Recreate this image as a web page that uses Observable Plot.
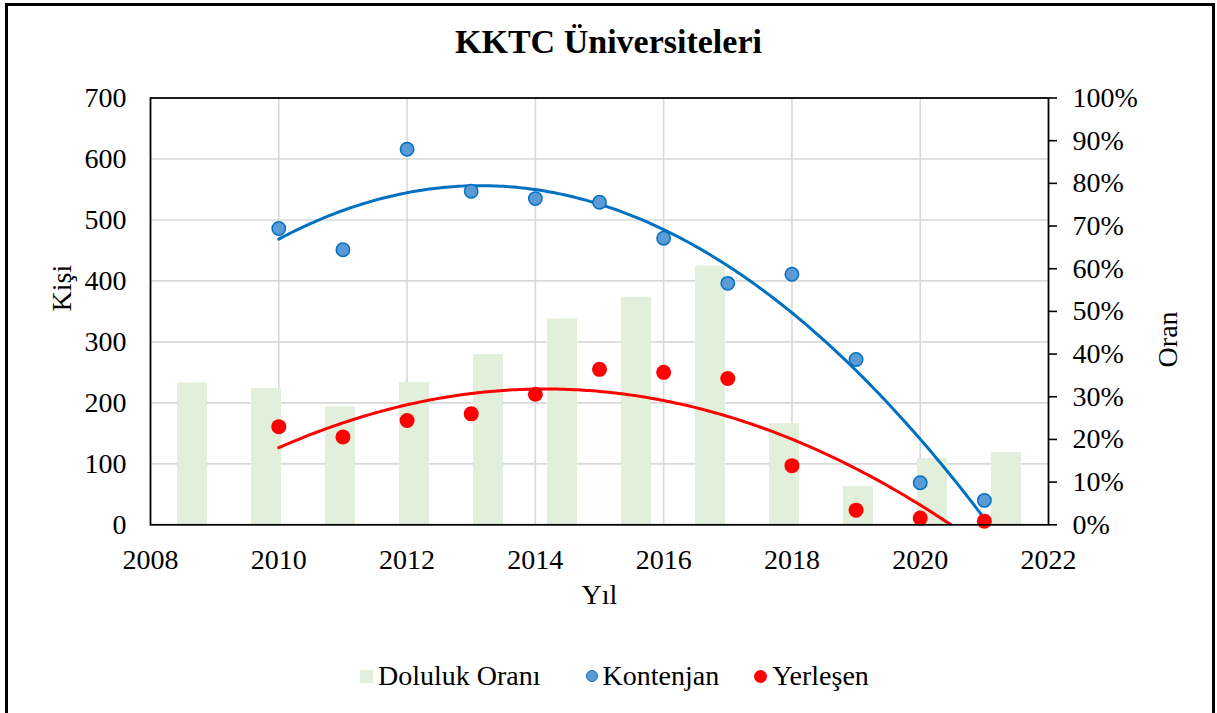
<!DOCTYPE html>
<html>
<head>
<meta charset="utf-8">
<script src="https://cdn.jsdelivr.net/npm/d3@7"></script>
<script src="https://cdn.jsdelivr.net/npm/@observablehq/plot@0.6"></script>
<style>
  html, body { margin: 0; padding: 0; background: #fff; }
  body { width: 1217px; height: 713px; overflow: hidden; position: relative;
         font-family: "Liberation Serif", "Tinos", "Times New Roman", "DejaVu Serif", serif; color: #000; }
  #border { position: absolute; left: 5px; top: 3px; width: 1204px; height: 760px;
            border: 3px solid #000; z-index: 10; pointer-events: none; }
  #title { position: absolute; left: 0; top: 25px; width: 1217px; text-align: center;
           font-size: 34px; line-height: 34px; font-weight: bold; }
  #chart { position: absolute; left: 0; top: 75px; width: 1217px; height: 560px; }
  #chart svg { position: absolute; left: 0; top: 0; }
  #chart svg text { font-family: "Liberation Serif", "Tinos", "Times New Roman", "DejaVu Serif", serif; }
  #legend { position: absolute; left: 360px; top: 662px; height: 28px; display: flex;
            align-items: center; font-size: 28px; line-height: 28px; white-space: nowrap; }
  .sw { display: inline-block; margin-right: 5px; }
  .sq { width: 13px; height: 13px; background: #e2efda; }
  .ci { width: 11px; height: 11px; border-radius: 50%; }
</style>
</head>
<body>
<div id="border"></div>
<div id="title">KKTC Üniversiteleri</div>
<div id="chart"></div>
<div id="legend">
  <span class="sw sq"></span><span>Doluluk Oranı</span>
  <span class="sw ci" style="margin-left:45px;background:#5b9bd5;border:1.5px solid #0070c0;width:10px;height:10px;"></span><span>Kontenjan</span>
  <span class="sw ci" style="margin-left:35px;background:#ff0000;width:13px;height:13px;"></span><span>Yerleşen</span>
</div>
<script>
// ---- data ----
const years     = [2010, 2011, 2012, 2013, 2014, 2015, 2016, 2017, 2018, 2019, 2020, 2021];
const kontenjan = [486, 451, 616, 547, 535, 529, 470, 396, 411, 271, 69, 40];
const yerlesen  = [161, 144, 171, 182, 214, 255, 250, 240, 97, 24, 11, 6];
const doluluk   = [33.2, 31.9, 27.6, 33.3, 39.9, 48.2, 53.3, 60.6, 23.7, 9.0, 15.5, 16.9]; // %
const xTicks    = [2008, 2010, 2012, 2014, 2016, 2018, 2020, 2022];
const yTicks    = [0, 100, 200, 300, 400, 500, 600, 700];
const pctTicks  = [0, 10, 20, 30, 40, 50, 60, 70, 80, 90, 100];

const W = 1217, H = 560;
const M = {top: 22.5, right: 169, bottom: 110.7, left: 150};
const FONT = "'Liberation Serif', Tinos, 'Times New Roman', 'DejaVu Serif', serif";

// quadratic least-squares trendline (as Excel's polynomial order 2)
function quadFit(xs, ys) {
  const x0 = 2015;
  const S = [0, 0, 0, 0, 0], T = [0, 0, 0];
  xs.forEach((x, i) => {
    const u = x - x0;
    for (let k = 0; k < 5; k++) S[k] += u ** k;
    T[0] += ys[i]; T[1] += ys[i] * u; T[2] += ys[i] * u * u;
  });
  const A = [[S[0], S[1], S[2]], [S[1], S[2], S[3]], [S[2], S[3], S[4]]];
  const det = m => m[0][0]*(m[1][1]*m[2][2]-m[1][2]*m[2][1]) - m[0][1]*(m[1][0]*m[2][2]-m[1][2]*m[2][0]) + m[0][2]*(m[1][0]*m[2][1]-m[1][1]*m[2][0]);
  const D = det(A);
  const c = [0, 1, 2].map(j => det(A.map((row, r) => row.map((v, k) => k === j ? T[r] : v))) / D);
  return x => c[0] + c[1] * (x - x0) + c[2] * (x - x0) ** 2;
}
const fK = quadFit(years, kontenjan);
const fY = quadFit(years, yerlesen);
const xs = d3.range(years[0], years[years.length - 1] + 0.0001, 0.05);
const trendK = xs.map(x => ({x, y: fK(x)}));
const trendY = xs.map(x => ({x, y: fY(x)}));

const pts = years.map((yr, i) => ({yr, k: kontenjan[i], y: yerlesen[i], d: doluluk[i]}));

const common = {
  width: W, height: H,
  marginTop: M.top, marginRight: M.right, marginBottom: M.bottom, marginLeft: M.left
};

// layer 1: gridlines
const grid = Plot.plot({
  ...common,
  style: {background: "transparent", fontFamily: FONT},
  x: {domain: [2008, 2022], axis: null},
  y: {domain: [0, 700], axis: null},
  marks: [
    Plot.gridX(xTicks, {stroke: "#d9d9d9", strokeOpacity: 1, strokeWidth: 1.6}),
    Plot.gridY(yTicks, {stroke: "#d9d9d9", strokeOpacity: 1, strokeWidth: 1.6})
  ]
});

// layer 2: bars on the secondary (category / percent) axes
const bars = Plot.plot({
  ...common,
  style: {background: "transparent", fontFamily: FONT, fontSize: "28px"},
  x: {type: "band", domain: years, paddingInner: 0.6, paddingOuter: 0.3, axis: null},
  y: {domain: [0, 100], axis: null},
  marks: [
    Plot.barY(pts, {x: "yr", y: "d", fill: "#e2efda"}),
    Plot.axisY(pctTicks, {anchor: "right", label: null, tickSize: 8, tickPadding: 16,
      strokeWidth: 1.6, tickFormat: d => d + "%", fontSize: 28}),
    Plot.text(["Oran"], {text: d => d, frameAnchor: "right", dx: 120, rotate: -90, fontSize: 28})
  ]
});

// layer 3: scatter, trendlines, primary axes
const main = Plot.plot({
  ...common,
  style: {background: "transparent", fontFamily: FONT, fontSize: "28px"},
  x: {domain: [2008, 2022]},
  y: {domain: [0, 700]},
  marks: [
    Plot.line(trendK, {x: "x", y: "y", stroke: "#0070c0", strokeWidth: 3, clip: true}),
    Plot.line(trendY, {x: "x", y: "y", stroke: "#ff0000", strokeWidth: 3, clip: true}),
    Plot.dot(pts, {x: "yr", y: "k", r: 6.7, fill: "#5b9bd5", stroke: "#0070c0", strokeWidth: 1.5}),
    Plot.dot(pts, {x: "yr", y: "y", r: 7.5, fill: "#ff0000", stroke: null}),
    Plot.axisX(xTicks, {label: null, tickSize: 0, tickPadding: 24, tickFormat: d => String(d), fontSize: 28}),
    Plot.axisY(yTicks, {anchor: "left", label: null, tickSize: 0, tickPadding: 24, tickFormat: d => String(d), fontSize: 28}),
    Plot.text(["Kişi"], {text: d => d, frameAnchor: "left", dx: -88, rotate: -90, fontSize: 28}),
    Plot.text(["Yıl"], {text: d => d, frameAnchor: "bottom", dy: 79, fontSize: 28}),
    Plot.frame({stroke: "#000", strokeWidth: 1.75})
  ]
});

const chart = document.getElementById("chart");
chart.append(grid, bars, main);
</script>
</body>
</html>
